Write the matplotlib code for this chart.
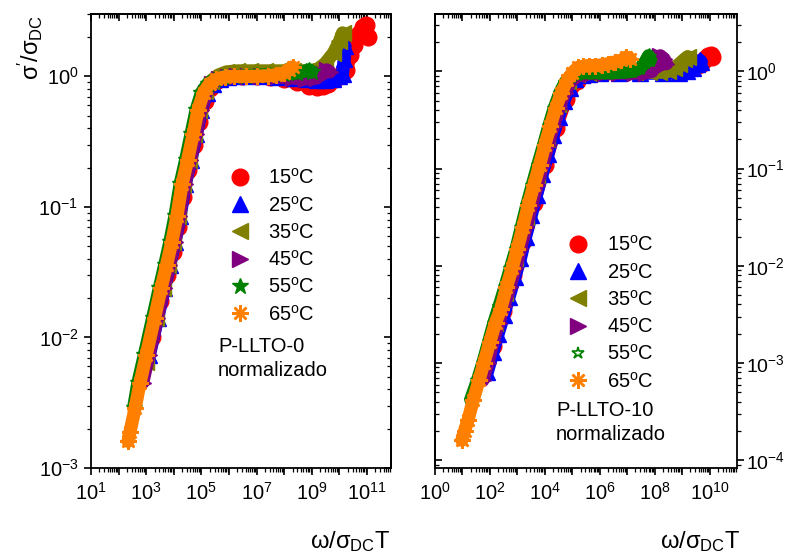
import numpy as np
import matplotlib
matplotlib.use("Agg")
import matplotlib.pyplot as plt
from matplotlib.ticker import LogLocator, NullFormatter, FuncFormatter, FixedLocator
from matplotlib.lines import Line2D

plt.rcParams['font.family'] = ['Liberation Sans', 'DejaVu Sans']
plt.rcParams['mathtext.fontset'] = 'custom'
plt.rcParams['mathtext.rm'] = 'Liberation Sans'
plt.rcParams['mathtext.it'] = 'Liberation Sans:italic'
plt.rcParams['mathtext.bf'] = 'Liberation Sans:bold'
plt.rcParams['mathtext.default'] = 'regular'
plt.rcParams['axes.unicode_minus'] = False

# ---------------- data ----------------
temps = ["15", "25", "35", "45", "55", "65"]
colors = ["#FF0000", "#0000FF", "#808000", "#800080", "#008000", "#FF8000"]

# Left panel: P-LLTO-0
L15_x = [1.6e3, 3.2e3, 5.7e3, 9e3, 1.4e4, 2.1e4, 3.3e4, 5.3e4, 8.3e4, 1.3e5, 2e5, 3.3e5, 6e5, 1.2e6, 3e6, 1e7, 3e7, 1e8, 3e8, 8e8, 1.5e9, 2.5e9, 4e9, 7e9, 1.2e10, 1.8e10, 2.5e10, 3.5e10, 5e10, 7e10, 9e10, 1.05e11]
L15_y = [1.0e-2, 1.9e-2, 3.0e-2, 4.5e-2, 7e-2, 0.12, 0.19, 0.30, 0.45, 0.65, 0.82, 0.92, 0.97, 1.0, 1.0, 1.0, 0.98, 0.95, 0.9, 0.84, 0.83, 0.84, 0.88, 0.95, 1.05, 1.12, 1.45, 1.75, 2.1, 2.4, 2.45, 2.0]
L25_x = [1.3e3, 2.6e3, 4.6e3, 7.2e3, 1.1e4, 1.7e4, 2.6e4, 4.2e4, 6.6e4, 1e5, 1.6e5, 2.6e5, 4.6e5, 9e5, 2e6, 6e6, 2e7, 6e7, 2e8, 6e8, 1.5e9, 3e9, 6e9, 1.0e10, 1.3e10, 1.5e10, 1.6e10]
L25_y = [7.3e-3, 1.4e-2, 2.4e-2, 3.6e-2, 5.4e-2, 8.5e-2, 0.15, 0.23, 0.36, 0.55, 0.75, 0.88, 0.95, 0.99, 1.0, 1.0, 1.0, 0.99, 0.97, 0.95, 0.94, 0.94, 0.95, 1.0, 1.05, 1.35, 1.7]
L35_x = [1.0e3, 2.2e3, 3.9e3, 6.2e3, 9.5e3, 1.45e4, 2.2e4, 3.6e4, 5.6e4, 8.4e4, 1.35e5, 2.2e5, 4e5, 8e5, 2e6, 6e6, 2e7, 6e7, 2e8, 6e8, 1.5e9, 3e9, 6e9, 1.0e10, 1.3e10]
L35_y = [6.5e-3, 1.4e-2, 2.4e-2, 3.6e-2, 5.4e-2, 8.5e-2, 0.15, 0.23, 0.36, 0.55, 0.77, 0.92, 1.02, 1.08, 1.1, 1.1, 1.1, 1.1, 1.1, 1.1, 1.12, 1.25, 1.5, 1.85, 2.15]
L45_x = [7.5e2, 1.25e3, 2.5e3, 4.4e3, 6.9e3, 1.06e4, 1.6e4, 2.5e4, 4.0e4, 6.3e4, 9.4e4, 1.5e5, 2.5e5, 4.4e5, 9e5, 2e6, 5e6, 1.5e7, 5e7, 2e8, 6e8, 1.5e9, 2.5e9, 3.5e9, 4.5e9]
L45_y = [4.5e-3, 7.3e-3, 1.4e-2, 2.4e-2, 3.6e-2, 5.4e-2, 8.5e-2, 0.15, 0.23, 0.36, 0.55, 0.75, 0.88, 0.95, 0.99, 1.0, 1.0, 1.0, 0.99, 0.97, 0.95, 0.97, 1.05, 1.12, 1.08]
L55_x = [3.5e2, 5.0e2, 8.5e2, 1.7e3, 3.0e3, 4.7e3, 7.2e3, 1.1e4, 1.7e4, 2.7e4, 4.2e4, 6.4e4, 1.0e5, 1.7e5, 3.0e5, 6e5, 1.5e6, 4e6, 1e7, 3e7, 1e8, 3e8, 6e8, 8e8, 1.0e9]
L55_y = [2.9e-3, 4.5e-3, 7.3e-3, 1.4e-2, 2.4e-2, 3.6e-2, 5.4e-2, 8.5e-2, 0.15, 0.23, 0.36, 0.55, 0.75, 0.88, 0.95, 0.99, 1.0, 1.01, 1.02, 1.03, 1.04, 1.06, 1.1, 1.12, 1.08]
L65_x = [2.2e2, 2.6e2, 4.0e2, 6.0e2, 1.0e3, 2.0e3, 3.5e3, 5.5e3, 8.5e3, 1.3e4, 2.0e4, 3.2e4, 5.0e4, 7.5e4, 1.2e5, 2.0e5, 3.5e5, 7e5, 1.5e6, 4e6, 1e7, 2.5e7, 5e7, 1e8, 1.5e8, 2e8]
L65_y = [1.6e-3, 1.9e-3, 2.9e-3, 4.5e-3, 7.3e-3, 1.4e-2, 2.4e-2, 3.6e-2, 5.4e-2, 8.5e-2, 0.15, 0.23, 0.36, 0.55, 0.75, 0.88, 0.95, 0.99, 1.0, 1.0, 1.0, 1.01, 1.03, 1.06, 1.12, 1.18]

# Right panel: P-LLTO-10
R15_x = [130, 300, 700, 1600, 4000, 1e4, 2.5e4, 6e4, 1.5e5, 4e5, 1.5e6, 6e6, 3e7, 1.5e8, 6e8, 1.5e9, 3e9, 5e9, 7e9, 9e9, 1.1e10, 1.25e10]
R15_y = [1.5e-3, 3.4e-3, 8e-3, 1.8e-2, 4.4e-2, 0.11, 0.26, 0.52, 0.8, 0.93, 0.98, 1.0, 1.0, 1.0, 1.02, 1.05, 1.1, 1.2, 1.35, 1.45, 1.48, 1.42]
R25_x = [80, 130, 200, 320, 500, 800, 1300, 2000, 3200, 5000, 8000, 1.3e4, 2e4, 3.2e4, 5e4, 8e4, 1.3e5, 2.2e5, 4e5, 1e6, 5e6, 3e7, 2e8, 8e8, 1.5e9, 2.5e9, 3.5e9, 4.5e9, 5e9]
R25_y = [8e-4, 1.3e-3, 2.0e-3, 3.1e-3, 4.8e-3, 7.6e-3, 1.2e-2, 2.0e-2, 3.3e-2, 5.4e-2, 8.8e-2, 0.14, 0.22, 0.34, 0.5, 0.68, 0.84, 0.92, 0.95, 0.96, 0.96, 0.96, 0.96, 0.97, 1.0, 1.08, 1.2, 1.3, 1.25]
R35_x = [150, 350, 800, 2000, 5000, 1.2e4, 3e4, 7e4, 1.5e5, 4e5, 1.5e6, 6e6, 2e7, 6e7, 1.5e8, 3e8, 5e8, 8e8, 1.2e9, 1.6e9]
R35_y = [2.6e-3, 5.3e-3, 1.2e-2, 3.2e-2, 8.5e-2, 0.2, 0.46, 0.8, 0.93, 0.97, 0.98, 0.98, 0.98, 0.98, 0.98, 1.0, 1.08, 1.2, 1.33, 1.42]
R45_x = [55, 85, 130, 210, 330, 530, 850, 1300, 2100, 3300, 5300, 8500, 1.3e4, 2.1e4, 3.3e4, 5.3e4, 8.5e4, 1.4e5, 2.5e5, 5e5, 1.5e6, 5e6, 2e7, 5e7, 8e7, 1.2e8, 1.6e8, 2.2e8, 2.7e8]
R45_y = [6.6e-4, 1.0e-3, 1.65e-3, 2.6e-3, 3.9e-3, 6.0e-3, 9.5e-3, 1.5e-2, 2.5e-2, 4.2e-2, 6.8e-2, 0.11, 0.175, 0.275, 0.42, 0.6, 0.78, 0.88, 0.93, 0.95, 0.96, 0.96, 0.96, 0.97, 1.0, 1.2, 1.45, 1.35, 1.2]
R55_x = [20, 35, 55, 90, 140, 220, 350, 560, 900, 1400, 2200, 3500, 5600, 9000, 1.4e4, 2.2e4, 3.5e4, 5.6e4, 9e4, 1.5e5, 3e5, 7e5, 2e6, 6e6, 1.5e7, 3e7, 4.5e7, 6e7, 7e7]
R55_y = [4.2e-4, 6.6e-4, 1.0e-3, 1.65e-3, 2.6e-3, 3.9e-3, 6.0e-3, 9.5e-3, 1.5e-2, 2.5e-2, 4.2e-2, 6.8e-2, 0.11, 0.175, 0.275, 0.42, 0.6, 0.78, 0.9, 0.95, 0.97, 0.97, 0.97, 0.98, 1.0, 1.08, 1.25, 1.45, 1.3]
R65_x = [9.5, 12, 16, 25, 40, 60, 100, 160, 250, 400, 650, 1000, 1600, 2500, 4000, 6500, 1.0e4, 1.6e4, 2.5e4, 4e4, 6.5e4, 1.0e5, 1.6e5, 2.5e5, 4e5, 7e5, 1.2e6, 2e6, 3.5e6, 6e6, 9e6, 1.3e7]
R65_y = [1.6e-4, 2.0e-4, 2.6e-4, 4.2e-4, 6.6e-4, 1.0e-3, 1.65e-3, 2.6e-3, 3.6e-3, 6.0e-3, 9.5e-3, 1.5e-2, 2.5e-2, 4.2e-2, 6.8e-2, 0.11, 0.175, 0.275, 0.42, 0.60, 0.81, 0.97, 1.1, 1.13, 1.15, 1.15, 1.17, 1.2, 1.25, 1.3, 1.4, 1.35]

left_series = [(L15_x, L15_y), (L25_x, L25_y), (L35_x, L35_y), (L45_x, L45_y), (L55_x, L55_y), (L65_x, L65_y)]
right_series = [(R15_x, R15_y), (R25_x, R25_y), (R35_x, R35_y), (R45_x, R45_y), (R55_x, R55_y), (R65_x, R65_y)]

left_sample = ["P-LLTO-0", "normalizado"]
right_sample = ["P-LLTO-10", "normalizado"]

# ---------------- figure ----------------
W, H = 788, 557
fig = plt.figure(figsize=(W / 100, H / 100), dpi=100)
fig.patch.set_facecolor("white")

def fx(px):
    return px / W

def fy(py):
    return 1 - py / H

axL = fig.add_axes([fx(91), fy(468), (391 - 91) / W, (468 - 14) / H])
axR = fig.add_axes([fx(435), fy(468), (737 - 435) / W, (468 - 14) / H])

markers = ['o', '^', '<', '>', '*', (8, 2, 0)]
FS = 14.5

def draw(ax, series, open_star):
    for i, ((xs, ys), c, m) in enumerate(zip(series, colors, markers)):
        ax.plot(xs, ys, '-', color=c, lw=9.5, solid_capstyle='round',
                solid_joinstyle='round', zorder=2 + i)
        if i == 4 and open_star:
            ax.plot(xs, ys, ls='none', marker='*', ms=11, mfc=c, mec=c, mew=1.0, zorder=2 + i)
        elif i == 5:
            ax.plot(xs, ys, ls='none', marker=m, ms=12, mec=c, mew=1.8, zorder=2 + i)
        else:
            ax.plot(xs, ys, ls='none', marker=m, ms=12, mfc=c, mec=c, zorder=2 + i)

draw(axL, left_series, False)
draw(axR, right_series, True)

def sci(v, pos):
    e = int(round(np.log10(v)))
    return r'$\mathdefault{10^{%d}}$' % e

def sci_odd(v, pos):
    e = int(round(np.log10(v)))
    return r'$\mathdefault{10^{%d}}$' % e if e % 2 == 1 else ''

def sci_even(v, pos):
    e = int(round(np.log10(v)))
    return r'$\mathdefault{10^{%d}}$' % e if e % 2 == 0 else ''

minor_subs = np.arange(2, 10)

def setup(ax, xlim, ylim, xmaj, ymaj, xfmt, yright):
    ax.set_xscale('log')
    ax.set_yscale('log')
    ax.set_xlim(*xlim)
    ax.set_ylim(*ylim)
    ax.xaxis.set_major_locator(FixedLocator(xmaj))
    ax.xaxis.set_minor_locator(LogLocator(base=10, subs=minor_subs, numticks=50))
    ax.xaxis.set_major_formatter(FuncFormatter(xfmt))
    ax.xaxis.set_minor_formatter(NullFormatter())
    ax.yaxis.set_major_locator(FixedLocator(ymaj))
    ax.yaxis.set_minor_locator(LogLocator(base=10, subs=minor_subs, numticks=50))
    ax.yaxis.set_major_formatter(FuncFormatter(sci))
    ax.yaxis.set_minor_formatter(NullFormatter())
    for s in ax.spines.values():
        s.set_linewidth(1.3)
    ax.tick_params(which='major', length=5, width=1.2, labelsize=FS, direction='out')
    ax.tick_params(which='minor', length=3, width=0.9, direction='out')
    ax.tick_params(axis='x', which='major', pad=5)
    if yright:
        ax.yaxis.tick_right()
        ax.tick_params(axis='y', which='major', pad=1.5)
    else:
        ax.tick_params(axis='y', which='major', pad=4)
    sx = ax.secondary_xaxis('top')
    sx.xaxis.set_major_locator(FixedLocator(xmaj))
    sx.xaxis.set_minor_locator(LogLocator(base=10, subs=minor_subs, numticks=50))
    sx.tick_params(which='major', length=5, width=1.2, direction='in', labeltop=False)
    sx.tick_params(which='minor', length=3, width=0.9, direction='in')
    sx.xaxis.set_major_formatter(NullFormatter())
    sx.xaxis.set_minor_formatter(NullFormatter())
    sx.spines['top'].set_linewidth(1.3)
    sy = ax.secondary_yaxis('left' if yright else 'right')
    sy.yaxis.set_major_locator(FixedLocator(ymaj))
    sy.yaxis.set_minor_locator(LogLocator(base=10, subs=minor_subs, numticks=50))
    sy.tick_params(which='major', length=5, width=1.2, direction='in')
    sy.tick_params(which='minor', length=3, width=0.9, direction='in')
    sy.yaxis.set_major_formatter(NullFormatter())
    sy.yaxis.set_minor_formatter(NullFormatter())
    for s in sy.spines.values():
        s.set_linewidth(1.3)

setup(axL, (10, 7.4e11), (1e-3, 3.0), [10.0 ** k for k in range(1, 12)],
      [1e-3, 1e-2, 1e-1, 1e0], sci_odd, False)
setup(axR, (1, 1e11), (8.3e-5, 3.9), [10.0 ** k for k in range(0, 11)],
      [1e-4, 1e-3, 1e-2, 1e-1, 1e0], sci_even, True)
for lbl in axR.get_yticklabels():
    lbl.set_fontsize(14)

# legends
labels = [r'%s$^{\mathrm{o}}$C' % t for t in temps]

def legend(ax, open_star, x_px, ytop_px, pad):
    handles = []
    for i, (c, m) in enumerate(zip(colors, markers)):
        if i == 4 and open_star:
            h = Line2D([], [], ls='none', marker='*', ms=9, mfc='white', mec=c, mew=1.2)
        elif i == 5:
            h = Line2D([], [], ls='none', marker=m, ms=12, mec=c, mew=1.8)
        else:
            h = Line2D([], [], ls='none', marker=m, ms=12, mfc=c, mec=c)
        handles.append(h)
    lg = ax.legend(handles, labels, loc='upper left', bbox_to_anchor=(fx(x_px), fy(ytop_px)),
                   bbox_transform=fig.transFigure, frameon=False, fontsize=FS,
                   handlelength=1.0, handletextpad=pad, labelspacing=0.36,
                   borderpad=0, borderaxespad=0)
    lg.set_zorder(20)

legend(axL, False, 230, 168, 0.9)
legend(axR, True, 568, 235, 0.95)

fig.text(fx(218), fy(347), left_sample[0], fontsize=FS, ha='left', va='center')
fig.text(fx(218), fy(371), left_sample[1], fontsize=FS, ha='left', va='center')
fig.text(fx(556), fy(410), right_sample[0], fontsize=FS, ha='left', va='center')
fig.text(fx(556), fy(435), right_sample[1], fontsize=FS, ha='left', va='center')

xlab = r'$\omega/\sigma_{\mathrm{DC}}\mathrm{T}$'
fig.text(fx(390), fy(548), xlab, fontsize=17, ha='right', va='baseline')
fig.text(fx(740), fy(548), xlab, fontsize=17, ha='right', va='baseline')
fig.text(fx(30), fy(47), r"$\sigma'/\sigma_{\mathrm{DC}}$", fontsize=17, rotation=90,
         ha='center', va='center')

fig.savefig("out.png", dpi=100)
